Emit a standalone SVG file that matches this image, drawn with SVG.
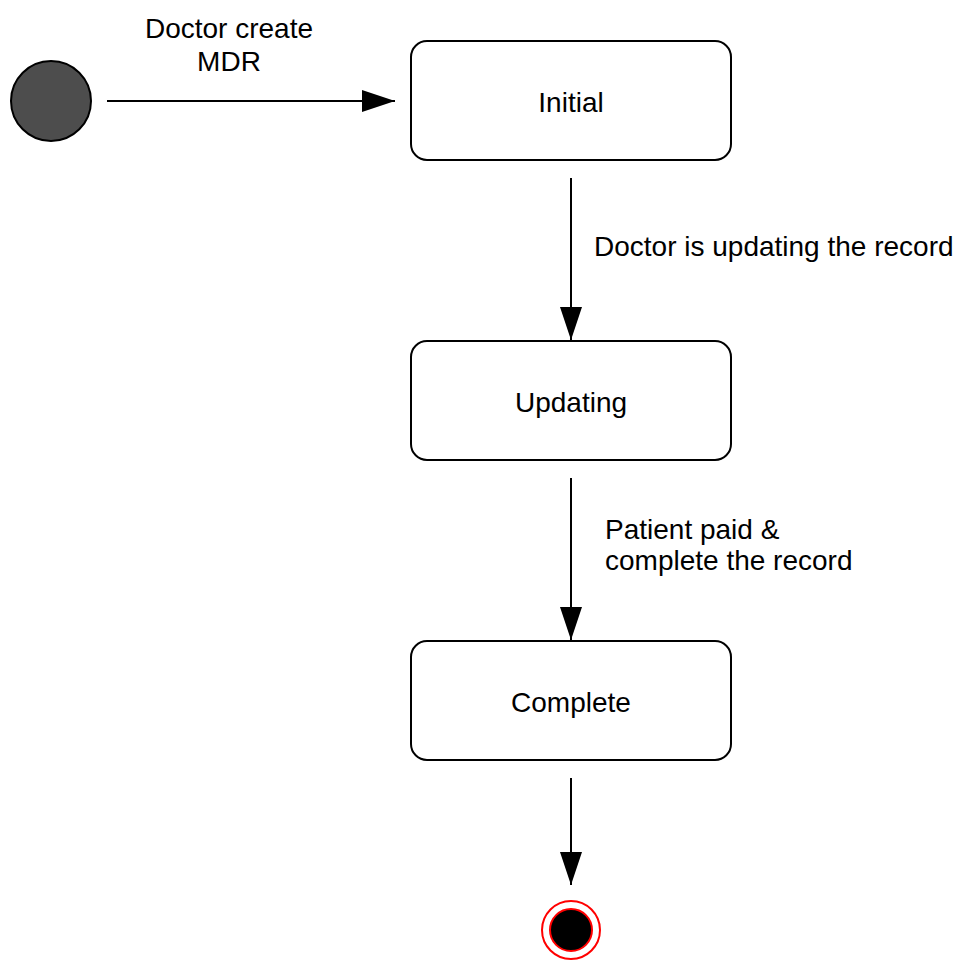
<svg xmlns="http://www.w3.org/2000/svg" width="962" height="972" viewBox="0 0 962 972">
<style>
.box{fill:#fff;stroke:#000;stroke-width:2}
.lbl{font-family:"Liberation Sans",Arial,sans-serif;font-size:28px;fill:#000}
.c{text-anchor:middle}
.edge{stroke:#000;stroke-width:2;fill:none}
</style>
<defs>
<marker id="ah" markerUnits="userSpaceOnUse" markerWidth="34" markerHeight="24" refX="33" refY="11" orient="auto">
<path d="M0,0 L33,11 L0,22 Z" fill="#000"/>
</marker>
</defs>
<rect width="962" height="972" fill="#fff"/>
<g id="connectors">
<line class="edge" x1="107" y1="101" x2="395" y2="101" marker-end="url(#ah)"/>
<line class="edge" x1="571" y1="178" x2="571" y2="340" marker-end="url(#ah)"/>
<line class="edge" x1="571" y1="478" x2="571" y2="640" marker-end="url(#ah)"/>
<line class="edge" x1="571" y1="778" x2="571" y2="885" marker-end="url(#ah)"/>
<text class="lbl c" x="229" y="38">Doctor create</text>
<text class="lbl c" x="229" y="71">MDR</text>
<text class="lbl" x="594" y="256">Doctor is updating the record</text>
<text class="lbl" x="605" y="539">Patient paid &amp;</text>
<text class="lbl" x="605" y="570">complete the record</text>
</g>
<g id="start">
<circle cx="51" cy="101" r="40" fill="#4d4d4d" stroke="#000" stroke-width="2"/>
</g>
<g id="initial">
<rect class="box" x="411" y="41" width="320" height="119" rx="16"/>
<text class="lbl c" x="571" y="112">Initial</text>
</g>
<g id="updating">
<rect class="box" x="411" y="341" width="320" height="119" rx="16"/>
<text class="lbl c" x="571" y="412">Updating</text>
</g>
<g id="complete">
<rect class="box" x="411" y="641" width="320" height="119" rx="16"/>
<text class="lbl c" x="571" y="712">Complete</text>
</g>
<g id="end">
<circle cx="571" cy="930" r="29" fill="#fff" stroke="#f00" stroke-width="2"/>
<circle cx="571" cy="930" r="21" fill="#000" stroke="#f00" stroke-width="2"/>
</g>
</svg>
